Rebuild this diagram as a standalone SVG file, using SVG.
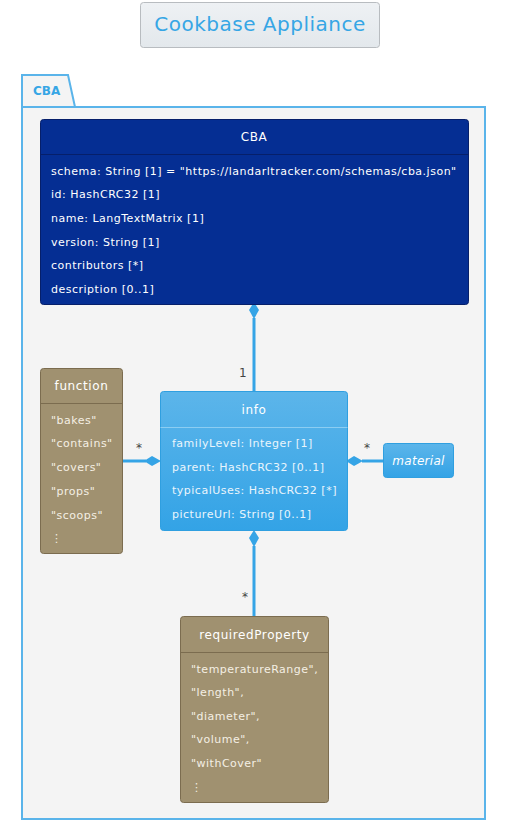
<svg xmlns="http://www.w3.org/2000/svg" width="507" height="831" viewBox="0 0 507 831">
<defs>
<linearGradient id="gInfo" x1="0" y1="0" x2="0" y2="1">
<stop offset="0" stop-color="#5cb5ea"/>
<stop offset="1" stop-color="#33a3e6"/>
</linearGradient>
<linearGradient id="gTitle" x1="0" y1="0" x2="0" y2="1">
<stop offset="0" stop-color="#eef1f4"/>
<stop offset="1" stop-color="#e3e8ec"/>
</linearGradient>
</defs>
<style>
text{font-family:"DejaVu Sans","Liberation Sans",sans-serif;}
.t{font-size:12px;fill:#ffffff;text-anchor:middle;letter-spacing:0.6px;}
.a{font-size:11px;fill:#ffffff;letter-spacing:0.5px;}
.ai{font-size:11px;fill:#eaf5fc;letter-spacing:0.5px;}
.ae{font-size:11px;fill:#f4efe4;letter-spacing:0.5px;}
.lbl{font-size:12px;fill:#444444;}
.enum{fill:#a09170;stroke:#7b6c4f;stroke-width:1;}
.sepE{stroke:#7b6c4f;stroke-width:1;}
.con{stroke:#35a4e6;stroke-width:3;fill:none;}
.dia{fill:#35a4e6;}
</style>
<rect width="507" height="831" fill="#ffffff"/>
<g id="title">
<rect x="140.5" y="2.5" width="239" height="45" rx="3" fill="url(#gTitle)" stroke="#b8bcc0"/>
<text x="260" y="31" style="font-size:20px;fill:#36a6e5;text-anchor:middle;letter-spacing:0.5px;">Cookbase Appliance</text>
</g>
<g id="pkg-CBA">
<path d="M22,107 L22,75 L68,75 L75,107" fill="#f4f4f4" stroke="#5ab4ea" stroke-width="2"/>
<rect x="22" y="107" width="463" height="712" fill="#f4f4f4" stroke="#5ab4ea" stroke-width="2"/>
<text x="33" y="95" style="font-size:12px;font-weight:bold;fill:#36a6e5;">CBA</text>
</g>
<g id="connectors">
<line class="con" x1="254" y1="318" x2="254" y2="391"/>
<path class="dia" d="M254,302 L259,310 L254,319 L249,310 Z"/>
<text class="lbl" x="239" y="377">1</text>
<line class="con" x1="123" y1="461" x2="146" y2="461"/>
<path class="dia" d="M144,461 L152,456 L161,461 L152,466 Z"/>
<text class="lbl" x="136" y="452">*</text>
<line class="con" x1="362" y1="461" x2="383" y2="461"/>
<path class="dia" d="M346,461 L354,456 L363,461 L354,466 Z"/>
<text class="lbl" x="364" y="452">*</text>
<line class="con" x1="254" y1="546" x2="254" y2="616"/>
<path class="dia" d="M254,530 L259,538 L254,547 L249,538 Z"/>
<text class="lbl" x="242" y="601">*</text>
</g>
<g id="CBA">
<rect x="40.5" y="119.5" width="428" height="185" rx="3" fill="#052e93" stroke="#061f6a"/>
<line x1="40.5" y1="154.5" x2="468.5" y2="154.5" stroke="#061f6a"/>
<text class="t" x="254" y="141">CBA</text>
<text class="a" x="51" y="175">schema: String [1] = "https://landarltracker.com/schemas/cba.json"</text>
<text class="a" x="51" y="198">id: HashCRC32 [1]</text>
<text class="a" x="51" y="222">name: LangTextMatrix [1]</text>
<text class="a" x="51" y="246">version: String [1]</text>
<text class="a" x="51" y="269">contributors [*]</text>
<text class="a" x="51" y="293">description [0..1]</text>
</g>
<g id="function">
<rect class="enum" x="40.5" y="368.5" width="82" height="185" rx="3"/>
<line class="sepE" x1="40.5" y1="403.5" x2="122.5" y2="403.5"/>
<text class="t" x="81.5" y="390">function</text>
<text class="ae" x="51" y="424">"bakes"</text>
<text class="ae" x="51" y="447">"contains"</text>
<text class="ae" x="51" y="471">"covers"</text>
<text class="ae" x="51" y="495">"props"</text>
<text class="ae" x="51" y="519">"scoops"</text>
<text class="ae" x="51" y="542">⋮</text>
</g>
<g id="info">
<rect x="160.5" y="391.5" width="187" height="139" rx="3" fill="url(#gInfo)" stroke="#2f9fe0"/>
<line x1="160.5" y1="427.5" x2="347.5" y2="427.5" stroke="#8ccdf2"/>
<text class="t" x="254" y="414">info</text>
<text class="ai" x="172" y="447">familyLevel: Integer [1]</text>
<text class="ai" x="172" y="471">parent: HashCRC32 [0..1]</text>
<text class="ai" x="172" y="494">typicalUses: HashCRC32 [*]</text>
<text class="ai" x="172" y="518">pictureUrl: String [0..1]</text>
</g>
<g id="material">
<rect x="383.5" y="443.5" width="70" height="34" rx="3" fill="url(#gInfo)" stroke="#2f9fe0"/>
<text x="418.5" y="465" style="font-size:12px;font-style:italic;fill:#ffffff;text-anchor:middle;letter-spacing:0.3px;">material</text>
</g>
<g id="requiredProperty">
<rect class="enum" x="180.5" y="616.5" width="148" height="186" rx="3"/>
<line class="sepE" x1="180.5" y1="652.5" x2="328.5" y2="652.5"/>
<text class="t" x="254.5" y="639">requiredProperty</text>
<text class="ae" x="191" y="673">"temperatureRange",</text>
<text class="ae" x="191" y="696">"length",</text>
<text class="ae" x="191" y="720">"diameter",</text>
<text class="ae" x="191" y="743">"volume",</text>
<text class="ae" x="191" y="767">"withCover"</text>
<text class="ae" x="191" y="791">⋮</text>
</g>
</svg>
